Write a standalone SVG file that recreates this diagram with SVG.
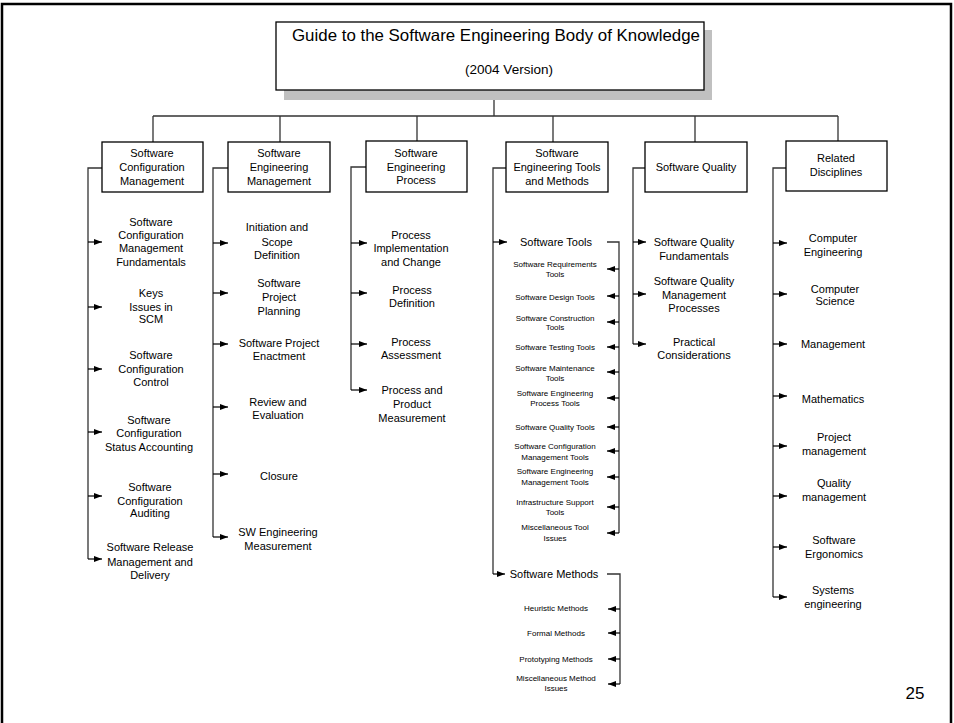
<svg xmlns="http://www.w3.org/2000/svg" width="954" height="723" viewBox="0 0 954 723">
<style>
.box{fill:#fff;stroke:#000;stroke-width:1.3}
.shadow{fill:#c0c0c0;stroke:none}
.t{font-family:"Liberation Sans",Arial,sans-serif;font-size:11px;text-anchor:middle;fill:#000}
.s{font-size:8px}
.ln{stroke:#333;stroke-width:1.3;fill:none}
.ar line{stroke:#000;stroke-width:1.2;marker-end:url(#ah)}
</style>
<defs>
<marker id="ah" viewBox="0 0 8 6" refX="8" refY="3" markerWidth="8" markerHeight="6" orient="auto" markerUnits="userSpaceOnUse">
<path d="M0,0 L8,3 L0,6 z" fill="#000"/>
</marker>
</defs>
<rect x="0" y="0" width="954" height="723" fill="#fff"/>
<path d="M2,723 V4 H951 V723" fill="none" stroke="#000" stroke-width="2.5"/>

<g id="connectors">
<path class="ln" d="M494,90 V116 M153,116 H838 M153,116 V142 M280,116 V142 M417,116 V141 M553,116 V142 M695,116 V142 M838,116 V141"/>
<path class="ln" d="M102,168 H88 V559"/>
<g class="ar">
<line x1="88" y1="242" x2="102" y2="242"/>
<line x1="88" y1="307" x2="102" y2="307"/>
<line x1="88" y1="369" x2="102" y2="369"/>
<line x1="88" y1="432" x2="102" y2="432"/>
<line x1="88" y1="496" x2="102" y2="496"/>
<line x1="88" y1="559" x2="102" y2="559"/>
</g>
<path class="ln" d="M228,168 H213 V537"/>
<g class="ar">
<line x1="213" y1="243" x2="228" y2="243"/>
<line x1="213" y1="293" x2="228" y2="293"/>
<line x1="213" y1="344" x2="228" y2="344"/>
<line x1="213" y1="407" x2="228" y2="407"/>
<line x1="213" y1="474" x2="228" y2="474"/>
<line x1="213" y1="537" x2="228" y2="537"/>
</g>
<path class="ln" d="M366,167 H351 V390"/>
<g class="ar">
<line x1="351" y1="243" x2="367" y2="243"/>
<line x1="351" y1="293" x2="367" y2="293"/>
<line x1="351" y1="344" x2="367" y2="344"/>
<line x1="351" y1="390" x2="367" y2="390"/>
</g>
<path class="ln" d="M506,168 H493 V574"/>
<g class="ar">
<line x1="493" y1="242" x2="507" y2="242"/>
<line x1="493" y1="574" x2="505" y2="574"/>
</g>
<path class="ln" d="M607,242 H619 V533"/>
<g class="ar">
<line x1="619" y1="269" x2="607" y2="269"/>
<line x1="619" y1="296" x2="607" y2="296"/>
<line x1="619" y1="322" x2="607" y2="322"/>
<line x1="619" y1="347" x2="607" y2="347"/>
<line x1="619" y1="372" x2="607" y2="372"/>
<line x1="619" y1="398" x2="607" y2="398"/>
<line x1="619" y1="427" x2="607" y2="427"/>
<line x1="619" y1="451" x2="607" y2="451"/>
<line x1="619" y1="477" x2="607" y2="477"/>
<line x1="619" y1="507" x2="607" y2="507"/>
<line x1="619" y1="533" x2="607" y2="533"/>
</g>
<path class="ln" d="M607,574 H620 V684"/>
<g class="ar">
<line x1="620" y1="609" x2="608" y2="609"/>
<line x1="620" y1="633" x2="608" y2="633"/>
<line x1="620" y1="659" x2="608" y2="659"/>
<line x1="620" y1="684" x2="608" y2="684"/>
</g>
<path class="ln" d="M645,168 H633 V344"/>
<g class="ar">
<line x1="633" y1="242" x2="646" y2="242"/>
<line x1="633" y1="294" x2="646" y2="294"/>
<line x1="633" y1="344" x2="646" y2="344"/>
</g>
<path class="ln" d="M786,168 H773 V597"/>
<g class="ar">
<line x1="773" y1="243" x2="787" y2="243"/>
<line x1="773" y1="294" x2="787" y2="294"/>
<line x1="773" y1="344" x2="787" y2="344"/>
<line x1="773" y1="396" x2="787" y2="396"/>
<line x1="773" y1="446" x2="787" y2="446"/>
<line x1="773" y1="496" x2="787" y2="496"/>
<line x1="773" y1="547" x2="787" y2="547"/>
<line x1="773" y1="597" x2="787" y2="597"/>
</g>
</g>

<g id="root">
<rect class="shadow" x="284" y="30" width="428" height="70"/>
<rect class="box" x="276" y="22" width="428" height="68"/>
<text class="t" x="292" y="41" style="font-size:16.5px;text-anchor:start" textLength="408" lengthAdjust="spacingAndGlyphs">Guide to the Software Engineering Body of Knowledge</text>
<text class="t" x="509" y="74" style="font-size:13.5px">(2004 Version)</text>
</g>

<g id="scm">
<rect class="box" x="102" y="142" width="101" height="50"/>
<text class="t" x="152" y="157">Software</text>
<text class="t" x="152" y="171">Configuration</text>
<text class="t" x="152" y="185">Management</text>
</g>
<g id="sem">
<rect class="box" x="228" y="142" width="102" height="50"/>
<text class="t" x="279" y="157">Software</text>
<text class="t" x="279" y="171">Engineering</text>
<text class="t" x="279" y="185">Management</text>
</g>
<g id="sep">
<rect class="box" x="366" y="141" width="101" height="51"/>
<text class="t" x="416" y="157">Software</text>
<text class="t" x="416" y="171">Engineering</text>
<text class="t" x="416" y="184">Process</text>
</g>
<g id="setm">
<rect class="box" x="506" y="142" width="102" height="50"/>
<text class="t" x="557" y="157">Software</text>
<text class="t" x="557" y="171">Engineering Tools</text>
<text class="t" x="557" y="185">and Methods</text>
</g>
<g id="sq">
<rect class="box" x="645" y="142" width="102" height="50"/>
<text class="t" x="696" y="171">Software Quality</text>
</g>
<g id="rd">
<rect class="box" x="786" y="141" width="101" height="50"/>
<text class="t" x="836" y="162">Related</text>
<text class="t" x="836" y="176">Disciplines</text>
</g>

<g id="scm-items">
<text class="t" x="151" y="226">Software</text>
<text class="t" x="151" y="239">Configuration</text>
<text class="t" x="151" y="252">Management</text>
<text class="t" x="151" y="266">Fundamentals</text>
<text class="t" x="151" y="297">Keys</text>
<text class="t" x="151" y="311">Issues in</text>
<text class="t" x="151" y="323">SCM</text>
<text class="t" x="151" y="359">Software</text>
<text class="t" x="151" y="373">Configuration</text>
<text class="t" x="151" y="386">Control</text>
<text class="t" x="149" y="424">Software</text>
<text class="t" x="149" y="437">Configuration</text>
<text class="t" x="149" y="451">Status Accounting</text>
<text class="t" x="150" y="491">Software</text>
<text class="t" x="150" y="505">Configuration</text>
<text class="t" x="150" y="517">Auditing</text>
<text class="t" x="150" y="551">Software Release</text>
<text class="t" x="150" y="566">Management and</text>
<text class="t" x="150" y="579">Delivery</text>
</g>

<g id="sem-items">
<text class="t" x="277" y="231">Initiation and</text>
<text class="t" x="277" y="246">Scope</text>
<text class="t" x="277" y="259">Definition</text>
<text class="t" x="279" y="287">Software</text>
<text class="t" x="279" y="301">Project</text>
<text class="t" x="279" y="315">Planning</text>
<text class="t" x="279" y="347">Software Project</text>
<text class="t" x="279" y="360">Enactment</text>
<text class="t" x="278" y="406">Review and</text>
<text class="t" x="278" y="419">Evaluation</text>
<text class="t" x="279" y="480">Closure</text>
<text class="t" x="278" y="536">SW Engineering</text>
<text class="t" x="278" y="550">Measurement</text>
</g>

<g id="sep-items">
<text class="t" x="411" y="239">Process</text>
<text class="t" x="411" y="252">Implementation</text>
<text class="t" x="411" y="266">and Change</text>
<text class="t" x="412" y="294">Process</text>
<text class="t" x="412" y="307">Definition</text>
<text class="t" x="411" y="346">Process</text>
<text class="t" x="411" y="359">Assessment</text>
<text class="t" x="412" y="394">Process and</text>
<text class="t" x="412" y="408">Product</text>
<text class="t" x="412" y="422">Measurement</text>
</g>

<g id="setm-items">
<text class="t" x="556" y="246">Software Tools</text>
<text class="t s" x="555" y="267">Software Requirements</text>
<text class="t s" x="555" y="277">Tools</text>
<text class="t s" x="555" y="300">Software Design Tools</text>
<text class="t s" x="555" y="321">Software Construction</text>
<text class="t s" x="555" y="330">Tools</text>
<text class="t s" x="555" y="350">Software Testing Tools</text>
<text class="t s" x="555" y="371">Software Maintenance</text>
<text class="t s" x="555" y="381">Tools</text>
<text class="t s" x="555" y="396">Software Engineering</text>
<text class="t s" x="555" y="406">Process Tools</text>
<text class="t s" x="555" y="430">Software Quality Tools</text>
<text class="t s" x="555" y="449">Software Configuration</text>
<text class="t s" x="555" y="460">Management Tools</text>
<text class="t s" x="555" y="474">Software Engineering</text>
<text class="t s" x="555" y="485">Management Tools</text>
<text class="t s" x="555" y="505">Infrastructure Support</text>
<text class="t s" x="555" y="515">Tools</text>
<text class="t s" x="555" y="530">Miscellaneous Tool</text>
<text class="t s" x="555" y="541">Issues</text>
<text class="t" x="554" y="578">Software Methods</text>
<text class="t s" x="556" y="611">Heuristic Methods</text>
<text class="t s" x="556" y="636">Formal Methods</text>
<text class="t s" x="556" y="662">Prototyping Methods</text>
<text class="t s" x="556" y="681">Miscellaneous Method</text>
<text class="t s" x="556" y="691">Issues</text>
</g>

<g id="sq-items">
<text class="t" x="694" y="246">Software Quality</text>
<text class="t" x="694" y="260">Fundamentals</text>
<text class="t" x="694" y="285">Software Quality</text>
<text class="t" x="694" y="299">Management</text>
<text class="t" x="694" y="312">Processes</text>
<text class="t" x="694" y="346">Practical</text>
<text class="t" x="694" y="359">Considerations</text>
</g>

<g id="rd-items">
<text class="t" x="833" y="242">Computer</text>
<text class="t" x="833" y="256">Engineering</text>
<text class="t" x="835" y="293">Computer</text>
<text class="t" x="835" y="305">Science</text>
<text class="t" x="833" y="348">Management</text>
<text class="t" x="833" y="403">Mathematics</text>
<text class="t" x="834" y="441">Project</text>
<text class="t" x="834" y="455">management</text>
<text class="t" x="834" y="487">Quality</text>
<text class="t" x="834" y="501">management</text>
<text class="t" x="834" y="544">Software</text>
<text class="t" x="834" y="558">Ergonomics</text>
<text class="t" x="833" y="594">Systems</text>
<text class="t" x="833" y="608">engineering</text>
</g>

<text class="t" x="915" y="699" style="font-size:17px">25</text>
</svg>
